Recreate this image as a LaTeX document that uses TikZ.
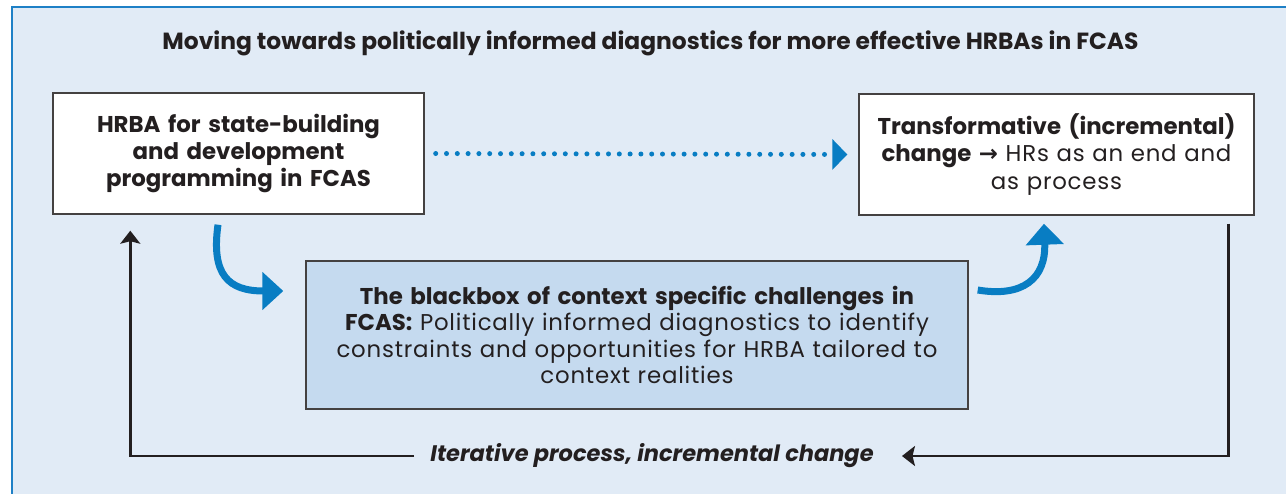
\documentclass[tikz,border=0pt]{standalone}
\usepackage{fontspec}
\setmainfont{Poppins}[UprightFeatures={LetterSpace=3.5}]
\newfontfamily\arrowfont{DejaVu Sans}
\usetikzlibrary{positioning,calc,arrows.meta}
\definecolor{panelbg}{RGB}{225,235,246}
\definecolor{panelline}{RGB}{30,128,198}
\definecolor{boxblue}{RGB}{197,218,239}
\definecolor{flowblue}{RGB}{8,125,195}
\definecolor{inkgray}{RGB}{35,31,32}
\tikzset{
  stagebox/.style={
    rectangle, draw=inkgray!85, line width=0.8pt, fill=white,
    minimum height=2.42cm, inner sep=0pt,
    align=center, text=inkgray,
    font=\fontsize{13}{15.4}\selectfont
  },
  blackbox/.style={
    rectangle, draw=inkgray!85, line width=0.8pt, fill=boxblue,
    minimum width=13.24cm, minimum height=2.96cm,
    text width=12.9cm, inner sep=0pt,
    align=center, text=inkgray,
    font=\fontsize{13}{15}\selectfont
  },
  titletext/.style={font=\fontsize{13.3}{15}\selectfont\bfseries, text=inkgray},
  looptext/.style={font=\fontsize{12.8}{15}\selectfont\bfseries\itshape,
    text=inkgray, inner xsep=0pt},
  flowarrow/.style={flowblue, line width=0.14cm,
    -{Triangle[length=0.42cm,width=0.74cm]}},
  dotarrow/.style={flowblue, line width=0.1cm, line cap=round,
    dash pattern=on 0pt off 0.216cm,
    -{Triangle[length=0.3cm,width=0.6cm]}},
  loopline/.style={inkgray, line width=1.4pt,
    -{Stealth[length=0.26cm,width=0.4cm,inset=0.05cm]}},
}

\begin{document}
\begin{tikzpicture}
\useasboundingbox (0,0) rectangle (25.72,9.86);
\clip (0,0) rectangle (25.72,9.86);

%% ── Panel and heading ────────────────────────────────────────────────────
\fill[white] (0,0) rectangle (25.72,9.86);
\draw[panelline, fill=panelbg, line width=0.05cm]
  (0.24,-0.5) rectangle (26.5,9.72);
\node[titletext] (title) at (13.01,8.99)
  {Moving towards politically informed diagnostics for more effective HRBAs in FCAS};

%% ── Stage boxes ──────────────────────────────────────────────────────────
\node[stagebox, minimum width=7.42cm, text width=7cm] (hrba) at (4.77,6.79) {%
  \textbf{HRBA for state-building}\\
  \textbf{and development}\\
  \textbf{programming in FCAS}
};

\node[stagebox, minimum width=7.9cm, text width=7.6cm] (change) at (21.13,6.77) {%
  \textbf{Transformative (incremental)}\\
  \textbf{change {\arrowfont\bfseries →}} HRs as an end and\\
  as process
};

\node[blackbox] (context) at (12.74,3.16) {%
  \textbf{The blackbox of context specific challenges in}\\
  \textbf{FCAS:} Politically informed diagnostics to identify\\
  constraints and opportunities for HRBA tailored to\\
  context realities
};

%% ── Blue flow arrows ─────────────────────────────────────────────────────
\draw[dotarrow] ([xshift=0.22cm]hrba.east) -- ([xshift=-0.22cm]change.west);

\draw[flowarrow] ($(hrba.south)+(-0.41,-0.2)$)
  .. controls +(-0.14,-1.0) and +(-1.1,0) .. ($(context.west)+(-0.44,0.88)$);

\draw[flowarrow] ($(context.east)+(0.18,0.9)$)
  .. controls +(0.9,-0.15) and +(0.04,-1.1) .. ($(change.south)+(-0.25,-0.16)$);

%% ── Feedback loop (bottom) ───────────────────────────────────────────────
\coordinate (loopR) at ($(change.south east)+(-0.52,-0.16)$);
\coordinate (loopL) at ($(hrba.south west)+(1.56,-0.32)$);
\node[looptext] (looplabel) at (13.04,0.74) {Iterative process, incremental change};

\draw[loopline] (loopR) |- ([xshift=0.56cm]looplabel.east);
\draw[loopline] ([xshift=-0.32cm]looplabel.west) -| (loopL);

\end{tikzpicture}
\end{document}
